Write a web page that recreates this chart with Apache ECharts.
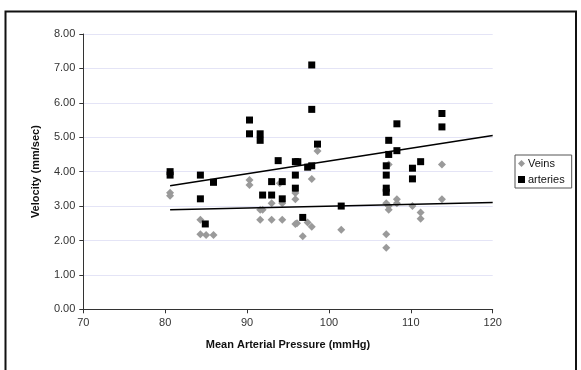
<!DOCTYPE html>
<html>
<head>
<meta charset="utf-8">
<script src="https://cdn.jsdelivr.net/npm/echarts@6/dist/echarts.min.js"></script>
<style>
  html, body { margin: 0; padding: 0; background: #fff; }
  #chart { width: 581px; height: 370px; }
</style>
</head>
<body>
<div id="chart"></div>
<script>
// ── Data ────────────────────────────────────────────────────────────────────
const veinsPressure = [
  80.6, 80.6, 84.3, 84.3, 85.0, 85.9, 90.3, 90.3, 91.6, 91.6, 91.9,
  93.0, 93.0, 94.0, 94.3, 94.3, 95.9, 95.9, 95.9, 96.1, 96.8, 97.4,
  97.9, 97.9, 98.6, 101.5, 107.0, 107.0, 107.0, 107.3, 107.3, 107.3,
  108.3, 108.3, 110.2, 111.2, 111.2, 113.8, 113.8,
]
const veinsVelocity = [
  3.39, 3.30, 2.60, 2.18, 2.16, 2.16, 3.76, 3.61, 2.89, 2.60, 2.89,
  3.08, 2.60, 3.66, 3.08, 2.60, 3.38, 3.20, 2.48, 2.50, 2.12, 2.52,
  2.40, 3.79, 4.60, 2.31, 3.08, 2.18, 1.79, 3.00, 2.89, 4.21,
  3.20, 3.08, 3.00, 2.81, 2.63, 4.21, 3.20,
]

const arteriesPressure = [
  80.6, 80.6, 84.3, 84.3, 84.9, 85.9, 90.3, 90.3, 91.6, 91.6, 91.9,
  93.0, 93.0, 93.8, 94.3, 94.3, 95.9, 95.9, 95.9, 96.2, 96.8, 97.4,
  97.9, 97.9, 97.9, 98.6, 101.5, 107.0, 107.0, 107.0, 107.0, 107.3, 107.3,
  108.3, 108.3, 110.2, 110.2, 111.2, 113.8, 113.8,
]
const arteriesVelocity = [
  4.00, 3.90, 3.90, 3.21, 2.48, 3.69, 5.50, 5.10, 5.10, 4.91, 3.32,
  3.71, 3.32, 4.32, 3.71, 3.21, 4.29, 3.90, 3.52, 4.29, 2.67, 4.13,
  4.17, 7.10, 5.81, 4.80, 3.00, 4.17, 3.90, 3.52, 3.40, 4.91, 4.50,
  5.39, 4.61, 4.10, 3.79, 4.29, 5.69, 5.30,
]

// trend line end points (x, y) as they appear in the picture
const trendX = [80.6, 120]
const veinsTrendY = [2.89, 3.10]
const arteriesTrendY = [3.59, 5.05]

const yTicks = [0, 1, 2, 3, 4, 5, 6, 7, 8]

const zip = (xs, ys) => xs.map((x, i) => [x, ys[i]])

const FONT = 'Liberation Sans, Arial, sans-serif'

const chart = echarts.init(document.getElementById('chart'), null, { renderer: 'canvas' })

chart.setOption({
  animation: false,
  backgroundColor: '#fff',
  textStyle: { fontFamily: FONT },
  graphic: [
    {
      type: 'rect',
      shape: { x: 5.5, y: 11.5, width: 570.5, height: 400 },
      style: { fill: 'none', stroke: '#111', lineWidth: 2 },
      silent: true,
    },
  ],
  grid: { left: 83.3, right: 88.3, top: 34, bottom: 60.7, containLabel: false },
  legend: {
    orient: 'vertical',
    left: 515,
    top: 155,
    padding: [3, 7, 3, 3],
    itemGap: 5,
    itemWidth: 7,
    itemHeight: 7,
    borderColor: '#555',
    borderWidth: 1,
    textStyle: { fontSize: 11, color: '#111', fontFamily: FONT, padding: [0, 0, 0, -2] },
    data: [
      { name: 'Veins', icon: 'diamond' },
      { name: 'arteries', icon: 'rect' },
    ],
  },
  xAxis: {
    type: 'value',
    min: 70,
    max: 120,
    interval: 10,
    name: 'Mean Arterial Pressure (mmHg)',
    nameLocation: 'middle',
    nameGap: 30,
    nameTextStyle: { fontSize: 11, fontWeight: 'bold', color: '#111', fontFamily: FONT },
    axisLine: { lineStyle: { color: '#333', width: 1 } },
    axisTick: { show: true, length: 4, lineStyle: { color: '#333' } },
    axisLabel: { fontSize: 11, color: '#333', margin: 8 },
    splitLine: { show: false },
  },
  yAxis: {
    type: 'value',
    min: yTicks[0],
    max: yTicks[yTicks.length - 1],
    interval: 1,
    name: 'Velocity (mm/sec)',
    nameLocation: 'middle',
    nameGap: 42,
    nameTextStyle: { fontSize: 11, fontWeight: 'bold', color: '#111', fontFamily: FONT },
    axisLine: { show: true, lineStyle: { color: '#333', width: 1 } },
    axisTick: { show: true, length: 4, lineStyle: { color: '#333' } },
    axisLabel: { fontSize: 11, color: '#333', margin: 8, formatter: v => v.toFixed(2) },
    splitLine: { show: true, lineStyle: { color: '#e4e4f6', width: 1 } },
  },
  series: [
    {
      name: 'Veins',
      type: 'scatter',
      symbol: 'diamond',
      symbolSize: 8,
      itemStyle: { color: '#9a9a9a', opacity: 1 },
      data: zip(veinsPressure, veinsVelocity),
      z: 2,
    },
    {
      name: 'arteries',
      type: 'scatter',
      symbol: 'rect',
      symbolSize: 7,
      itemStyle: { color: '#000', opacity: 1 },
      data: zip(arteriesPressure, arteriesVelocity),
      z: 3,
    },
    {
      name: 'veinsTrend',
      type: 'line',
      showSymbol: false,
      symbol: 'none',
      silent: true,
      lineStyle: { color: '#000', width: 1.5 },
      data: zip(trendX, veinsTrendY),
      z: 4,
    },
    {
      name: 'arteriesTrend',
      type: 'line',
      showSymbol: false,
      symbol: 'none',
      silent: true,
      lineStyle: { color: '#000', width: 1.5 },
      data: zip(trendX, arteriesTrendY),
      z: 4,
    },
  ],
})
</script>
</body>
</html>
